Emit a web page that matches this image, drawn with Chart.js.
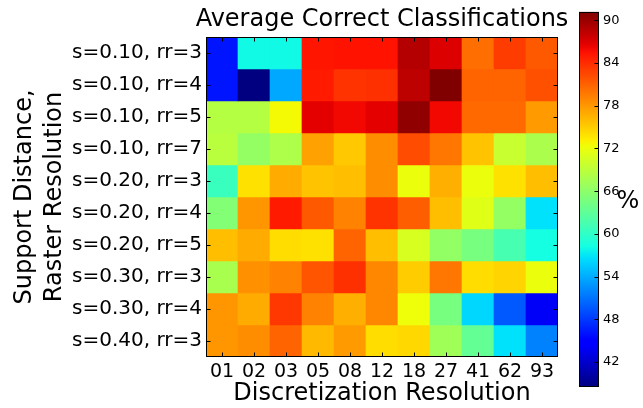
<!DOCTYPE html>
<html>
<head>
<meta charset="utf-8">
<script src="https://cdn.jsdelivr.net/npm/chart.js@4"></script>
<style>
  html, body { margin: 0; padding: 0; background: #fff; }
  #wrap { position: relative; width: 643px; height: 408px; }
  #wrap canvas { position: absolute; left: 0; top: 0; }
</style>
</head>
<body>
<div id="wrap">
  <canvas id="heat" width="643" height="408"></canvas>
  <canvas id="bar" width="643" height="408"></canvas>
</div>
<script>
// Rows: support distance / raster resolution configurations
const configs = [
  's=0.10, rr=3', 's=0.10, rr=4', 's=0.10, rr=5', 's=0.10, rr=7',
  's=0.20, rr=3', 's=0.20, rr=4', 's=0.20, rr=5',
  's=0.30, rr=3', 's=0.30, rr=4', 's=0.40, rr=3'
];
// Columns: discretization resolutions
const resolutions = ['01', '02', '03', '05', '08', '12', '18', '27', '41', '62', '93'];

// Average correct classifications (%) per configuration, one array per row
const row01 = [46.1, 58.0, 58.0, 85.3, 85.4, 85.4, 88.8, 87.0, 80.3, 83.1, 81.5];
const row02 = [46.1, 38.5, 53.8, 85.0, 83.6, 83.8, 88.4, 91.2, 80.9, 80.9, 82.0];
const row03 = [68.5, 68.5, 72.5, 86.6, 86.0, 86.6, 90.4, 86.0, 80.6, 80.6, 77.8];
const row04 = [68.8, 66.4, 68.0, 77.5, 75.3, 78.6, 82.2, 79.8, 75.6, 69.7, 67.9];
const row05 = [60.6, 73.9, 76.9, 75.6, 75.8, 78.6, 72.0, 76.7, 72.0, 73.9, 75.8];
const row06 = [65.3, 78.1, 85.0, 81.5, 79.2, 83.6, 81.2, 75.8, 71.3, 66.4, 56.7];
const row07 = [75.8, 76.9, 74.1, 73.9, 80.9, 75.8, 70.7, 66.3, 64.6, 61.4, 58.3];
const row08 = [67.8, 78.4, 79.2, 81.7, 83.8, 78.9, 75.1, 79.8, 74.1, 74.6, 72.0];
const row09 = [78.1, 76.9, 83.4, 79.2, 76.7, 78.9, 72.2, 64.6, 56.2, 49.7, 44.0];
const row10 = [78.1, 78.6, 80.9, 76.1, 77.8, 74.1, 74.4, 67.2, 63.3, 56.7, 51.8];
const accuracy = [row01, row02, row03, row04, row05, row06, row07, row08, row09, row10];

// Colour bar tick values
const barTicks = [42, 48, 54, 60, 66, 72, 78, 84, 90];

const FONT = 'DejaVu Sans';
const TITLE = 'Average Correct Classifications';
const vmin = Math.min(...accuracy.flat());
const vmax = Math.max(...accuracy.flat());

// Classic "jet" colour map
function jet(t) {
  t = Math.max(0, Math.min(1, t));
  const lerp = (pts) => {
    for (let i = 1; i < pts.length; i++) {
      if (t <= pts[i][0]) {
        const [x0, y0] = pts[i - 1], [x1, y1] = pts[i];
        return y0 + (y1 - y0) * (t - x0) / (x1 - x0);
      }
    }
    return pts[pts.length - 1][1];
  };
  const r = lerp([[0, 0], [0.35, 0], [0.66, 1], [0.89, 1], [1, 0.5]]);
  const g = lerp([[0, 0], [0.125, 0], [0.375, 1], [0.64, 1], [0.91, 0], [1, 0]]);
  const b = lerp([[0, 0.5], [0.11, 1], [0.34, 1], [0.65, 0], [1, 0]]);
  return `rgb(${Math.round(r * 255)},${Math.round(g * 255)},${Math.round(b * 255)})`;
}
const colorFor = (v) => jet((v - vmin) / (vmax - vmin));

// Frame around the plot area with inward tick marks on all sides, plus the title
const framePlugin = {
  id: 'frame',
  afterDatasetsDraw(chart) {
    const { ctx, chartArea: a, scales: { x, y } } = chart;
    const L = Math.round(a.left) + 0.5, R = Math.round(a.right) - 0.5;
    const T = Math.round(a.top) + 0.5, B = Math.round(a.bottom) - 0.5;
    ctx.save();
    ctx.strokeStyle = '#000';
    ctx.lineWidth = 1;
    ctx.strokeRect(L, T, R - L, B - T);
    ctx.beginPath();
    x.ticks.forEach((_, i) => {
      const px = Math.round(x.getPixelForTick(i)) + 0.5;
      ctx.moveTo(px, T); ctx.lineTo(px, T + 4);
      ctx.moveTo(px, B); ctx.lineTo(px, B - 4);
    });
    y.ticks.forEach((_, i) => {
      const py = Math.round(y.getPixelForTick(i)) + 0.5;
      ctx.moveTo(L, py); ctx.lineTo(L + 4, py);
      ctx.moveTo(R, py); ctx.lineTo(R - 4, py);
    });
    ctx.stroke();
    ctx.fillStyle = '#000';
    ctx.font = `24px "${FONT}"`;
    ctx.textAlign = 'center';
    ctx.textBaseline = 'alphabetic';
    ctx.fillText(TITLE, (a.left + a.right) / 2, a.top - 11);
    ctx.restore();
  }
};

new Chart(document.getElementById('heat'), {
  type: 'bar',
  data: {
    labels: resolutions,
    datasets: configs.map((name, r) => ({
      label: name,
      data: resolutions.map(() => 1),
      backgroundColor: accuracy[r].map(colorFor),
      borderWidth: 0,
      barPercentage: 1,
      categoryPercentage: 1,
      stack: 'cells'
    }))
  },
  options: {
    responsive: false,
    animation: false,
    events: [],
    layout: { padding: { left: 0, right: 85, top: 37, bottom: 0 } },
    plugins: {
      legend: { display: false },
      tooltip: { enabled: false },
      title: { display: false }
    },
    scales: {
      x: {
        stacked: true,
        grid: { display: false, drawTicks: false },
        border: { display: false },
        ticks: { color: '#000', font: { family: FONT, size: 19 }, padding: 4, maxRotation: 0, autoSkip: false },
        title: {
          display: true,
          text: 'Discretization Resolution',
          color: '#000',
          font: { family: FONT, size: 24, lineHeight: 1.2 },
          padding: { top: 0, bottom: 0 }
        },
        afterFit(s) { s.height = 51; }
      },
      y: {
        stacked: true,
        reverse: true,
        min: 0,
        max: configs.length,
        grid: { display: false, drawTicks: false },
        border: { display: false },
        afterBuildTicks(s) { s.ticks = configs.map((_, i) => ({ value: i + 0.5 })); },
        ticks: {
          color: '#000',
          font: { family: FONT, size: 20 },
          padding: 4,
          autoSkip: false,
          callback: (v) => configs[Math.floor(v)]
        },
        title: {
          display: true,
          text: ['Support Distance,', 'Raster Resolution'],
          color: '#000',
          font: { family: FONT, size: 24, lineHeight: 1.25 },
          padding: { top: 10, bottom: 0 }
        },
        afterFit(s) { s.width = 206; }
      }
    }
  },
  plugins: [framePlugin]
});

// Colour bar: one floating bar spanning the value range, filled with the colour map
const barFramePlugin = {
  id: 'barFrame',
  afterDatasetsDraw(chart) {
    const { ctx, chartArea: a, scales: { y } } = chart;
    const L = Math.round(a.left) + 0.5, R = Math.round(a.right) - 0.5;
    const T = Math.round(a.top) + 0.5, B = Math.round(a.bottom) - 0.5;
    ctx.save();
    ctx.strokeStyle = '#000';
    ctx.lineWidth = 1;
    ctx.strokeRect(L, T, R - L, B - T);
    ctx.beginPath();
    y.ticks.forEach((_, i) => {
      const py = Math.round(y.getPixelForTick(i)) + 0.5;
      ctx.moveTo(R, py); ctx.lineTo(R - 4, py);
    });
    ctx.stroke();
    ctx.fillStyle = '#000';
    ctx.font = `24px "${FONT}"`;
    ctx.textAlign = 'center';
    ctx.textBaseline = 'middle';
    ctx.fillText('%', a.right + 29, (a.top + a.bottom) / 2 + 2);
    ctx.restore();
  }
};

new Chart(document.getElementById('bar'), {
  type: 'bar',
  data: {
    labels: [''],
    datasets: [{
      data: [[vmin, vmax]],
      borderWidth: 0,
      barPercentage: 1,
      categoryPercentage: 1,
      backgroundColor(c) {
        const chart = c.chart;
        const a = chart.chartArea;
        if (!a) return 'rgba(0,0,0,0)';
        const y = chart.scales.y;
        const y0 = y.getPixelForValue(vmin), y1 = y.getPixelForValue(vmax);
        const grad = chart.ctx.createLinearGradient(0, y0, 0, y1);
        for (let i = 0; i <= 64; i++) grad.addColorStop(i / 64, jet(i / 64));
        return grad;
      }
    }]
  },
  options: {
    responsive: false,
    animation: false,
    events: [],
    layout: { padding: { left: 579, right: 0, top: 8, bottom: 21 } },
    plugins: { legend: { display: false }, tooltip: { enabled: false } },
    scales: {
      x: { display: false },
      y: {
        position: 'right',
        min: vmin,
        max: vmax,
        grid: { display: false, drawTicks: false },
        border: { display: false },
        afterBuildTicks(s) { s.ticks = barTicks.map((v) => ({ value: v })); },
        ticks: { color: '#000', font: { family: FONT, size: 13 }, padding: 4 },
        afterFit(s) { s.width = 44; }
      }
    }
  },
  plugins: [barFramePlugin]
});
</script>
</body>
</html>
